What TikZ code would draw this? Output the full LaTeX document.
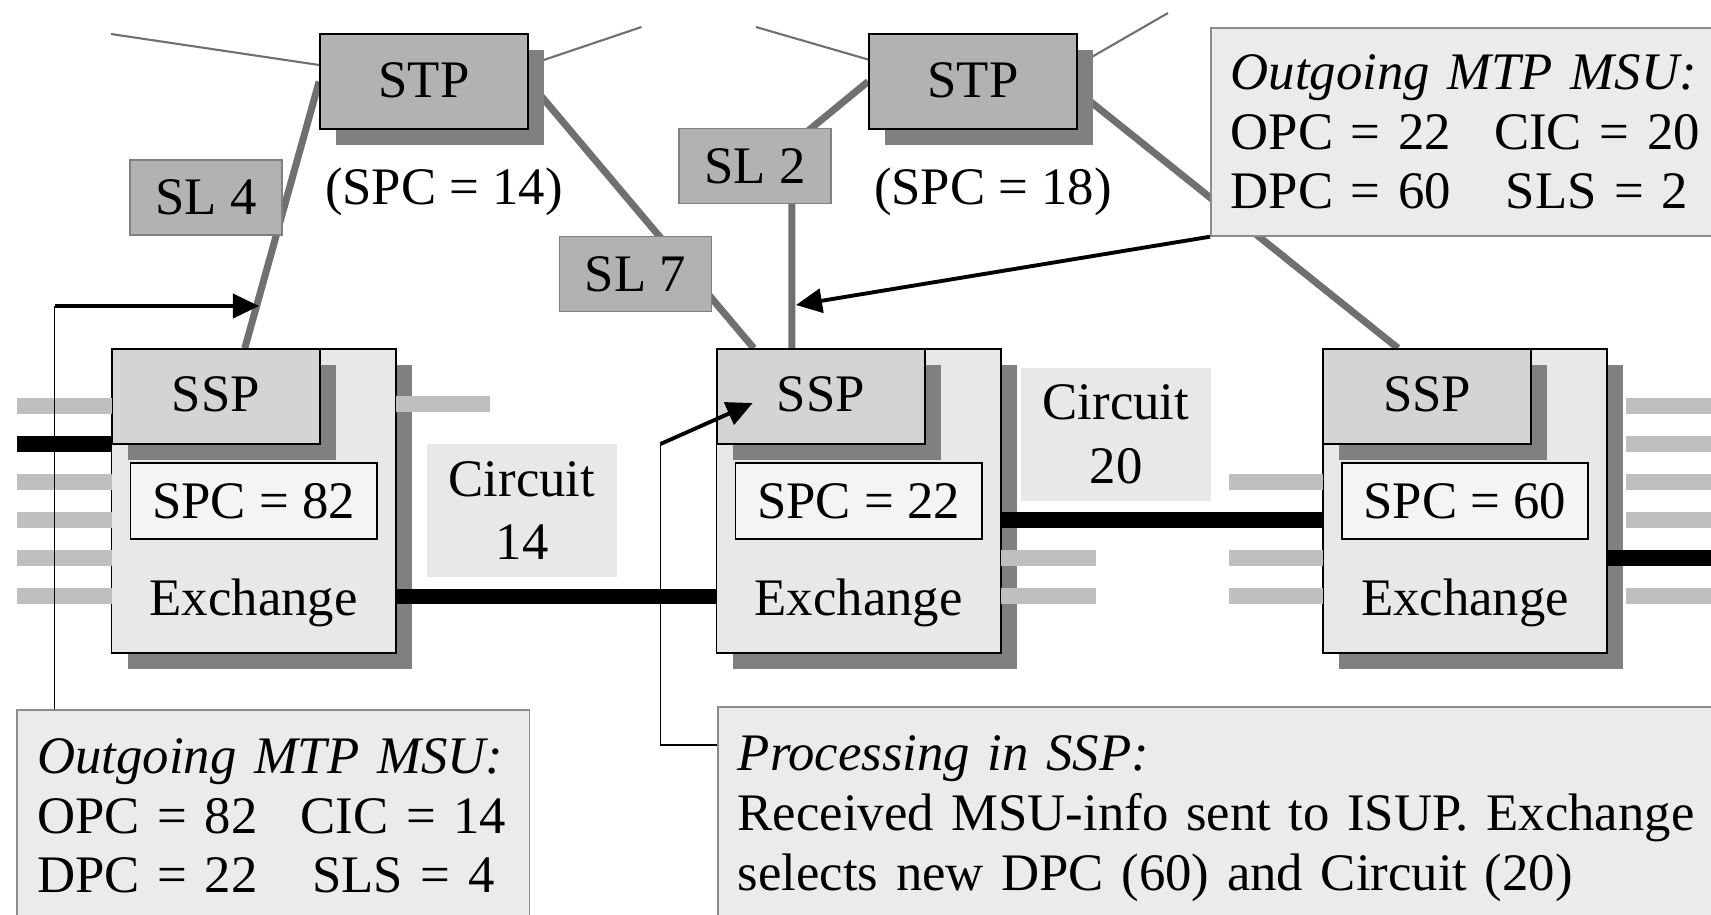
\documentclass[tikz,border=0pt]{standalone}
\usepackage{fontspec}
\setmainfont{Liberation Serif}
\usetikzlibrary{arrows.meta,shadows,backgrounds}

\definecolor{stpgray}{gray}{0.70}
\definecolor{sspgray}{gray}{0.83}
\definecolor{exgray}{gray}{0.91}
\definecolor{spcgray}{gray}{0.955}
\definecolor{shadegray}{gray}{0.50}
\definecolor{linkgray}{gray}{0.44}
\definecolor{stubgray}{gray}{0.75}
\definecolor{infogray}{gray}{0.92}

\begin{document}
\begin{tikzpicture}[x=0.01cm, y=-0.01cm,
        every node/.style={font=\fontsize{15pt}{17pt}\selectfont},
        boxshadow/.style={drop shadow={shadow xshift=0.16cm, shadow yshift=-0.16cm, fill=shadegray, opacity=1}},
        stpbox/.style={rectangle, draw=black, line width=0.45pt, fill=stpgray, minimum width=2.08cm, minimum height=0.95cm, text height=0.92em, text depth=0pt, boxshadow},
        slbox/.style={rectangle, draw=black!50, line width=0.45pt, fill=stpgray, minimum width=1.52cm, minimum height=0.75cm, text height=0.98em, text depth=0pt},
        exbox/.style={rectangle, draw=black, line width=0.45pt, fill=exgray, minimum width=2.84cm, minimum height=3.04cm, boxshadow},
        sspbox/.style={rectangle, draw=black, line width=0.45pt, fill=sspgray, minimum width=2.08cm, minimum height=0.95cm, text height=0.88em, text depth=0pt, boxshadow},
        spcbox/.style={rectangle, draw=black, line width=0.45pt, fill=spcgray, minimum width=2.46cm, minimum height=0.76cm, text height=0.98em, text depth=0pt},
        circbox/.style={rectangle, fill=exgray, minimum width=1.9cm, minimum height=1.33cm, align=center},
        infobox/.style={rectangle, draw=black!45, line width=0.45pt, fill=infogray, align=left, inner xsep=0.2cm, anchor=north west},
        link/.style={linkgray, line width=2pt},
        wire/.style={linkgray, line width=0.6pt},
        trunk/.style={black, line width=4.3pt},
        stub/.style={stubgray, line width=4.3pt},
        msg/.style={black, line width=1.1pt, -{Triangle[length=0.26cm, width=0.24cm]}},
        lead/.style={black, line width=0.45pt}]

    \useasboundingbox (0, 0) rectangle (1711, 914);

    % signalling transfer points
    \node[stpbox] at (424, 81.5)  (stpa)    {STP};
    \node[stpbox] at (973, 81.5)  (stpb)    {STP};
    \node[] at (444, 192)  (pca)    {(SPC = 14)};
    \node[] at (993, 192)  (pcb)    {(SPC = 18)};

    \coordinate (wa) at (111, 34);
    \coordinate (wb) at (641.5, 27);
    \coordinate (wc) at (756, 27);
    \coordinate (wd) at (1168, 13);
    \coordinate (kneeb) at (792, 144);

    % exchanges
    \node[exbox] at (253.7, 501)  (exa)    {};
    \node[sspbox] at (215.8, 396.5)  (sspa)    {SSP};
    \node[spcbox] at (253.7, 501)  (spca)    {SPC = 82};
    \node[] at (253.7, 603)  (exta)    {Exchange};

    \node[exbox] at (858.7, 501)  (exb)    {};
    \node[sspbox] at (820.8, 396.5)  (sspb)    {SSP};
    \node[spcbox] at (858.7, 501)  (spcb)    {SPC = 22};
    \node[] at (858.7, 603)  (extb)    {Exchange};

    \node[exbox] at (1465, 501)  (exc)    {};
    \node[sspbox] at (1427, 396.5)  (sspc)    {SSP};
    \node[spcbox] at (1465, 501)  (spcc)    {SPC = 60};
    \node[] at (1465, 603)  (extc)    {Exchange};

    % signalling links
    \begin{scope}[on background layer]
        \draw[wire] (wa) -- ([yshift=0.165cm]stpa.west);
        \draw[wire] ([yshift=0.165cm]stpa.east) -- (wb);
        \draw[wire] (wc) -- ([yshift=0.22cm]stpb.west);
        \draw[wire] ([yshift=0.165cm]stpb.east) -- (wd);

        \draw[link] (stpa.west) -- ([xshift=0.29cm]sspa.north);
        \draw[link] (stpa.east) -- ([xshift=-0.67cm]sspb.north);
        \draw[link] (stpb.west) -- (kneeb) -- ([xshift=-0.29cm]sspb.north);
        \draw[link] ([yshift=-0.1cm]stpb.east) -- ([xshift=-0.29cm]sspc.north);
    \end{scope}

    \node[slbox] at (206, 197.5)  (sla)    {SL 4};
    \node[slbox] at (635.5, 274)  (slb)    {SL 7};
    \node[slbox] at (755, 166)  (slc)    {SL 2};

    % circuits
    \node[circbox] at (522, 510.5)  (cira)    {Circuit\\[0.04cm]14};
    \node[circbox] at (1116, 434.5)  (cirb)    {Circuit\\[0.04cm]20};

    \draw[trunk] ([yshift=-0.95cm]exa.east) -- ([yshift=-0.95cm]exb.west);
    \draw[trunk] ([yshift=-0.19cm]exb.east) -- ([yshift=-0.19cm]exc.west);

    \draw[stub] (16.5, 406) -- (111.6, 406)  (16.5, 482) -- (111.6, 482)  (16.5, 520) -- (111.6, 520)
                (16.5, 558) -- (111.6, 558)  (16.5, 596) -- (111.6, 596)  (395.8, 404) -- (490, 404);
    \draw[trunk] (16.5, 444) -- (111.6, 444);
    \draw[stub] (1000.7, 558) -- (1096, 558)  (1000.7, 596) -- (1096, 596);
    \draw[stub] (1229, 482) -- (1323, 482)  (1229, 558) -- (1323, 558)  (1229, 596) -- (1323, 596);
    \draw[stub] (1626, 406) -- (1711, 406)  (1626, 444) -- (1711, 444)  (1626, 482) -- (1711, 482)
                (1626, 520) -- (1711, 520)  (1626, 596) -- (1711, 596);
    \draw[trunk] (1607, 558) -- (1711, 558);

    % message boxes
    \node[infobox, text width=5.1cm, minimum height=2.08cm] at (1210, 27)  (infoc)
        {\textit{Outgoing MTP MSU:}\\
         \makebox[2.66cm][l]{OPC = 22}\makebox[2cm]{CIC = 20}\\
         \makebox[2.66cm][l]{DPC = 60}\makebox[2cm]{SLS = 2}};
    \node[infobox, text width=4.72cm, minimum height=2.12cm] at (16.4, 709)  (infoa)
        {\textit{Outgoing MTP MSU:}\\
         \makebox[2.66cm][l]{OPC = 82}\makebox[2cm]{CIC = 14}\\
         \makebox[2.66cm][l]{DPC = 22}\makebox[2cm]{SLS = 4}};
    \node[infobox, text width=9.9cm, minimum height=2.24cm] at (717, 706)  (infob)
        {\textit{Processing in SSP:}\\
         Received MSU-info sent to ISUP. Exchange\\
         selects new DPC (60) and Circuit (20)};

    \coordinate (benda) at (54.5, 306);
    \coordinate (tapa) at (259, 306);
    \coordinate (tapb) at (796, 305);
    \coordinate (bendb) at (660.5, 444);
    \coordinate (tipb) at (752.7, 403);

    \draw[lead] (benda |- infoa.north) -- (benda);
    \draw[msg] (benda) -- (tapa);
    \draw[msg] (infoc.south west) -- (tapb);
    \draw[lead] (infob.north west |- 0, 745) -| (bendb);
    \draw[msg] (bendb) -- (tipb);
\end{tikzpicture}
\end{document}
